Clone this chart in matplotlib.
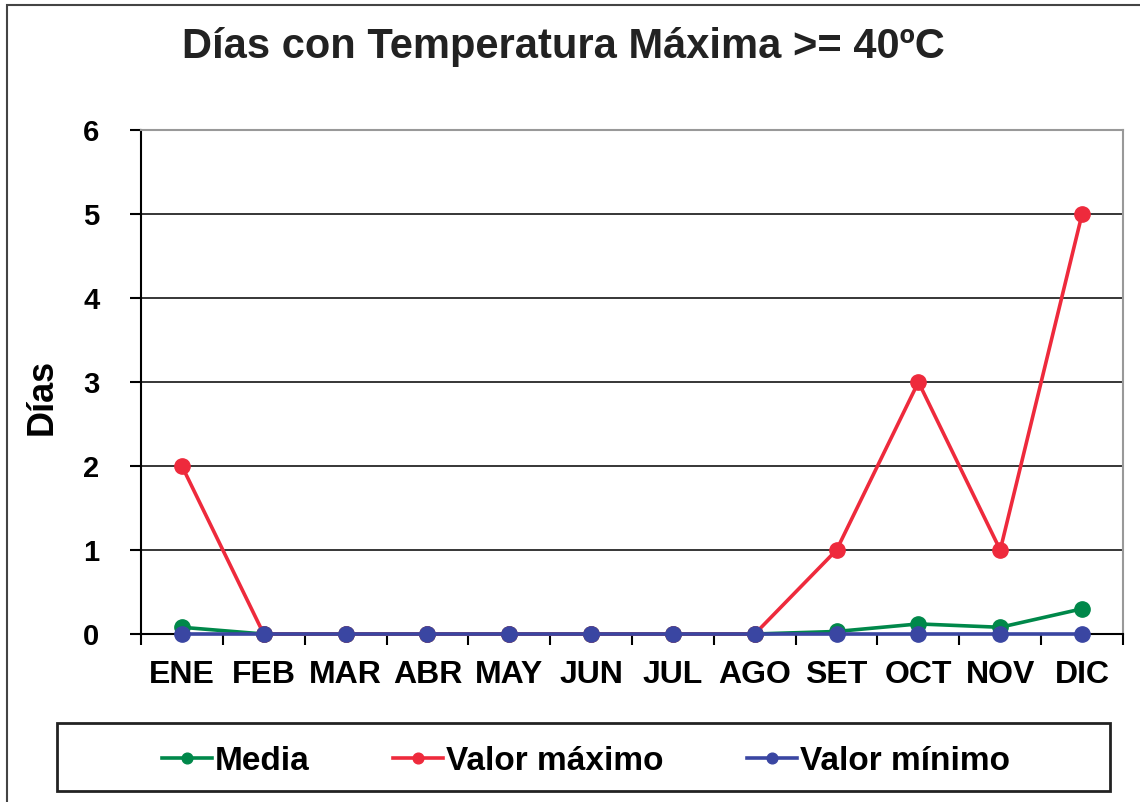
import matplotlib.pyplot as plt
import matplotlib.patches as patches

meses = ['ENE', 'FEB', 'MAR', 'ABR', 'MAY', 'JUN', 'JUL', 'AGO', 'SET', 'OCT', 'NOV', 'DIC']
media = [0.08, 0, 0, 0, 0, 0, 0, 0, 0.03, 0.12, 0.08, 0.3]
valor_max = [2, 0, 0, 0, 0, 0, 0, 0, 1, 3, 1, 5]
valor_min = [0, 0, 0, 0, 0, 0, 0, 0, 0, 0, 0, 0]

plt.rcParams['font.family'] = ['Liberation Sans', 'DejaVu Sans']
plt.rcParams['font.weight'] = 'bold'

fig = plt.figure(figsize=(11.4, 8.02), dpi=100)
ax = fig.add_axes([141 / 1140, 1 - 634 / 802, 982 / 1140, 504 / 802])

x = list(range(len(meses)))
ax.plot(x, media, color='#00884A', lw=2.6, marker='o', ms=11, label='Media', zorder=3, clip_on=False)
ax.plot(x, valor_max, color='#EE2A3C', lw=2.6, marker='o', ms=11, label='Valor máximo', zorder=3, clip_on=False)
ax.plot(x, valor_min, color='#3A46A2', lw=2.6, marker='o', ms=11, label='Valor mínimo', zorder=4, clip_on=False)

ax.set_xlim(-0.5, 11.5)
ax.set_ylim(0, 6)
ax.set_yticks(range(0, 7))
ax.tick_params(axis='y', direction='out', length=8, width=1.5, pad=22, labelsize=21)

# marcas entre meses, etiquetas centradas
ax.set_xticks([i - 0.5 for i in range(13)])
ax.set_xticklabels([])
ax.set_xticks(x, minor=True)
ax.set_xticklabels(meses, minor=True, fontsize=23, fontweight='bold')
ax.tick_params(axis='x', which='major', direction='out', length=8, width=1.5)
ax.tick_params(axis='x', which='minor', length=0, pad=19)

for yv in range(1, 6):
    ax.axhline(yv, color='black', lw=1.1, zorder=1)

ax.spines['left'].set_linewidth(1.5)
ax.spines['bottom'].set_linewidth(1.5)
ax.spines['top'].set_color('#999999')
ax.spines['right'].set_color('#999999')
ax.spines['top'].set_linewidth(1.5)
ax.spines['right'].set_linewidth(1.5)

ax.set_ylabel('Días', fontsize=26, fontweight='bold')
ax.yaxis.set_label_coords(-0.083, 0.47)

fig.text(0.494, 1 - 47 / 802, 'Días con Temperatura Máxima >= 40ºC',
         ha='center', va='center', fontsize=30, fontweight='bold', color='#222222')

# caja de la leyenda
fig.patches.append(patches.Rectangle((57 / 1140, 1 - 791 / 802), 1053 / 1140, 68 / 802,
                                     transform=fig.transFigure, fill=False,
                                     edgecolor='#222222', lw=2))
# borde exterior
fig.patches.append(patches.Rectangle((7 / 1140, -0.01), 1.02, 1 - 5 / 802 + 0.01,
                                     transform=fig.transFigure, fill=False,
                                     edgecolor='#444444', lw=1.5))

fig.legend(loc='center', bbox_to_anchor=(586 / 1140, 1 - 761 / 802), ncol=3,
           frameon=False, fontsize=24, handlelength=1.5, handletextpad=0.1,
           columnspacing=2.5, markerscale=0.7)

fig.savefig('out.png', dpi=100)
